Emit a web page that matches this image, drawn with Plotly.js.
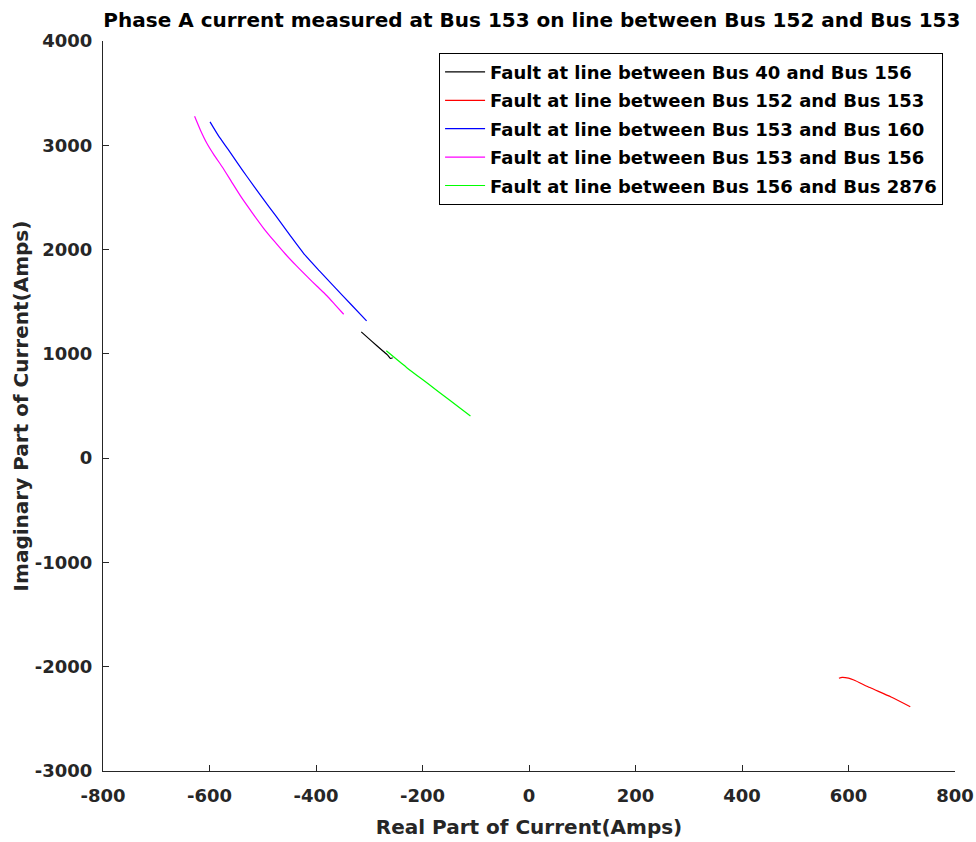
<!DOCTYPE html>
<html><head><meta charset="utf-8">
<script src="https://cdn.plot.ly/plotly-3.0.1.min.js"></script>
<style>body{margin:0;background:#fff}</style>
</head><body><div id="chart" style="width:976px;height:842px"></div>
<script>
const names = [
  "Fault at line between Bus 40 and Bus 156",
  "Fault at line between Bus 152 and Bus 153",
  "Fault at line between Bus 153 and Bus 160",
  "Fault at line between Bus 153 and Bus 156",
  "Fault at line between Bus 156 and Bus 2876"
];
const colors = ["#000000", "#ff0000", "#0000ff", "#ff00ff", "#00ff00"];

const blackX = [-315, -295, -276, -265, -260, -256];
const blackY = [1211, 1120, 1035, 985, 956, 962];

const redX = [582, 588, 600, 610, 640, 680, 716];
const redY = [-2111, -2102, -2110, -2128, -2200, -2290, -2383];

const blueX = [-599, -583, -565, -547, -529, -502, -475, -449, -423, -394, -365, -335, -305];
const blueY = [3224, 3090, 2960, 2826, 2696, 2505, 2320, 2138, 1962, 1798, 1640, 1478, 1316];

const magX = [-628, -617, -605, -591, -576, -558, -540, -519, -498, -478, -458, -437, -416, -398, -380, -364, -348];
const magY = [3278, 3145, 3020, 2904, 2792, 2645, 2500, 2348, 2202, 2078, 1960, 1846, 1738, 1648, 1560, 1470, 1380];

const greenX = [-268, -230, -190, -150, -110];
const greenY = [1029, 870, 715, 560, 405];

const xTicks = [-800, -600, -400, -200, 0, 200, 400, 600, 800];
const yTicks = [-3000, -2000, -1000, 0, 1000, 2000, 3000, 4000];

const xs = [blackX, redX, blueX, magX, greenX];
const ys = [blackY, redY, blueY, magY, greenY];

const traces = names.map((n, i) => ({
  x: xs[i], y: ys[i], name: "<b>" + n + "</b>", type: "scatter", mode: "lines",
  legendgroup: "g" + i,
  line: {color: colors[i], width: 1.2, shape: "spline", smoothing: 0.6}
}));

const fontFam = "DejaVu Sans, sans-serif";
const layout = {
  width: 976, height: 842,
  margin: {l: 103, r: 21, t: 41, b: 71},
  paper_bgcolor: "#fff", plot_bgcolor: "#fff",
  title: {text: "<b>Phase A current measured at Bus 153 on line between Bus 152 and Bus 153</b>",
    font: {family: fontFam, size: 20, color: "#000"}, x: 0.545, xanchor: "center", y: 0.976, yanchor: "middle"},
  xaxis: {
    range: [-800, 800], tickvals: xTicks,
    ticktext: xTicks.map(v => "<b>" + v + "</b>"),
    ticks: "inside", ticklen: 6, tickcolor: "#262626",
    showline: true, linecolor: "#262626", linewidth: 1, mirror: false,
    showgrid: false, zeroline: false, ticklabelstandoff: 8,
    tickfont: {family: fontFam, size: 18, color: "#262626"},
    title: {text: "<b>Real Part of Current(Amps)</b>", font: {family: fontFam, size: 20, color: "#262626"}, standoff: 15}
  },
  yaxis: {
    range: [-3000, 4000], tickvals: yTicks,
    ticktext: yTicks.map(v => "<b>" + v + "</b>"),
    ticks: "inside", ticklen: 6, tickcolor: "#262626",
    showline: true, linecolor: "#262626", linewidth: 1, mirror: false,
    showgrid: false, zeroline: false, ticklabelstandoff: 6,
    tickfont: {family: fontFam, size: 18, color: "#262626"},
    title: {text: "<b>Imaginary Part of Current(Amps)</b>", font: {family: fontFam, size: 20, color: "#262626"}, standoff: 0}
  },
  showlegend: true,
  legend: {
    x: 0.986, y: 0.984, xanchor: "right", yanchor: "top",
    bordercolor: "#000", borderwidth: 1, bgcolor: "#fff",
    font: {family: fontFam, size: 18, color: "#000"},
    traceorder: "grouped", tracegroupgap: 2, itemwidth: 40
  }
};
Plotly.newPlot("chart", traces, layout, {displayModeBar: false, staticPlot: true});
</script></body></html>
